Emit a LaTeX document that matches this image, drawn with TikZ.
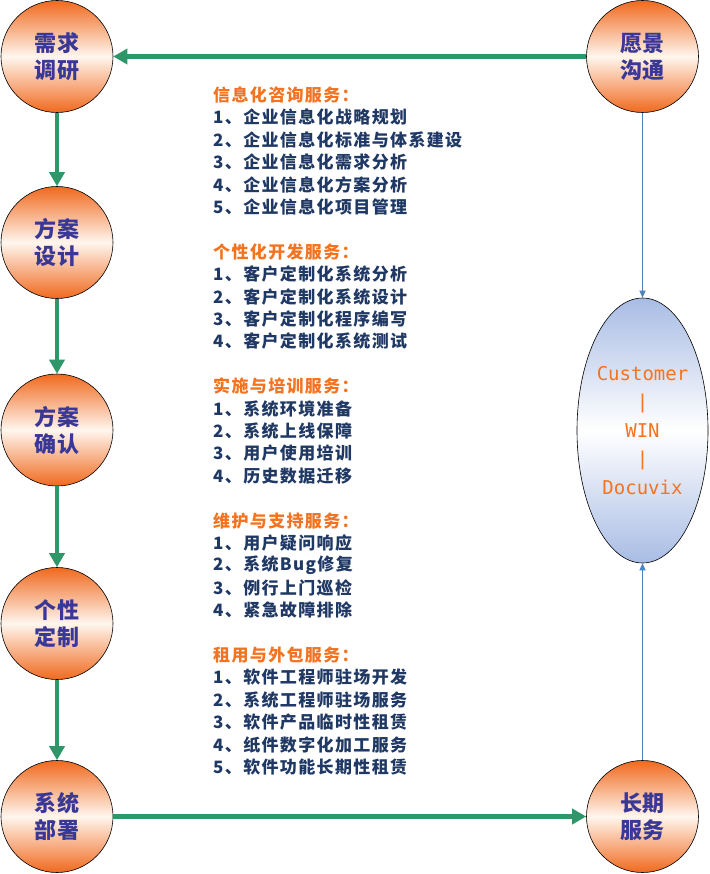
\documentclass[tikz,border=0pt]{standalone}
\usepackage{fontspec}
\usetikzlibrary{arrows.meta,shapes.geometric}
\newfontfamily\cjk[LetterSpace=8]{Noto Sans CJK SC}
\newfontfamily\cjkc[LetterSpace=4]{Noto Sans CJK SC}
\newfontfamily\monof{DejaVu Sans Mono}
\definecolor{gline}{RGB}{46,150,104}
\definecolor{bline}{RGB}{79,129,189}
\definecolor{navyT}{RGB}{31,56,100}
\definecolor{orangeT}{RGB}{243,115,32}
\definecolor{circT}{RGB}{58,56,150}
\definecolor{corange}{RGB}{240,105,30}
\definecolor{cmid}{RGB}{255,246,238}
\definecolor{eblue}{RGB}{168,188,228}
\tikzset{
  stage/.style={circle, draw=black, line width=0.6pt, minimum size=112pt, inner sep=0pt,
    top color=corange, bottom color=corange, middle color=cmid,
    align=center, text=circT, font=\cjkc\bfseries\fontsize{22}{27}\selectfont},
  winell/.style={ellipse, draw=black, line width=0.6pt, minimum width=131pt, minimum height=265pt, inner sep=0pt,
    top color=eblue, bottom color=eblue, middle color=white,
    align=center, text=orangeT, font=\monof\fontsize{19}{28.5}\selectfont},
  garrow/.style={draw=gline, line width=4.5pt, -{Triangle[length=14pt,width=15pt]}},
  barrow/.style={draw=bline, line width=1.1pt, -{Triangle[length=7pt,width=6pt]}},
  listline/.style={anchor=west, inner sep=0pt, font=\cjk\bfseries\fontsize{17}{22}\selectfont}
}
\begin{document}
\begin{tikzpicture}[x=1pt,y=-1pt]
\fill[white] (0,0) rectangle (709,874);
\useasboundingbox (0,0) rectangle (709,874);

\node[stage] (c1) at (57,56.5) {需求\\调研};
\node[stage] (c2) at (57,242.5) {方案\\设计};
\node[stage] (c3) at (57,430) {方案\\确认};
\node[stage] (c4) at (57,623.5) {个性\\定制};
\node[stage] (c5) at (57,816.5) {系统\\部署};
\node[stage] (r1) at (642.5,56.5) {愿景\\沟通};
\node[stage] (r2) at (642.5,816.5) {长期\\服务};
\node[winell] (ell) at (642.5,430.5) {Customer\\|\\WIN\\|\\Docuvix};

\draw[garrow] (r1.west) -- (c1.east);
\draw[garrow] (c1.south) -- (c2.north);
\draw[garrow] (c2.south) -- (c3.north);
\draw[garrow] (c3.south) -- (c4.north);
\draw[garrow] (c4.south) -- (c5.north);
\draw[garrow] (c5.east) -- (r2.west);
\draw[barrow] (r1.south) -- (ell.north);
\draw[barrow] (r2.north) -- (ell.south);

\foreach \n/\c/\t in {
  0/orangeT/信息化咨询服务：,
  1/navyT/1、企业信息化战略规划,
  2/navyT/2、企业信息化标准与体系建设,
  3/navyT/3、企业信息化需求分析,
  4/navyT/4、企业信息化方案分析,
  5/navyT/5、企业信息化项目管理,
  7/orangeT/个性化开发服务：,
  8/navyT/1、客户定制化系统分析,
  9/navyT/2、客户定制化系统设计,
  10/navyT/3、客户定制化程序编写,
  11/navyT/4、客户定制化系统测试,
  13/orangeT/实施与培训服务：,
  14/navyT/1、系统环境准备,
  15/navyT/2、系统上线保障,
  16/navyT/3、用户使用培训,
  17/navyT/4、历史数据迁移,
  19/orangeT/维护与支持服务：,
  20/navyT/1、用户疑问响应,
  21/navyT/2、系统Bug修复,
  22/navyT/3、例行上门巡检,
  23/navyT/4、紧急故障排除,
  25/orangeT/租用与外包服务：,
  26/navyT/1、软件工程师驻场开发,
  27/navyT/2、系统工程师驻场服务,
  28/navyT/3、软件产品临时性租赁,
  29/navyT/4、纸件数字化加工服务,
  30/navyT/5、软件功能长期性租赁}
  \node[listline, text=\c] (L\n) at (213,95+22.4*\n) {\t};
\end{tikzpicture}
\end{document}
